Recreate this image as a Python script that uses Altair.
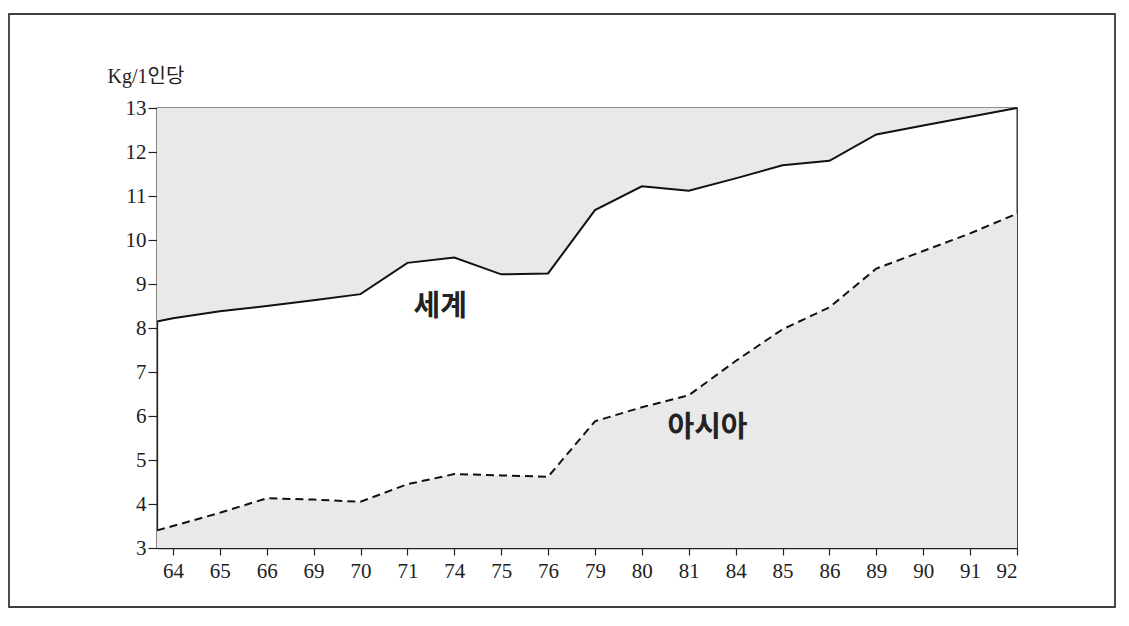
import altair as alt
import pandas as pd

# x labels (years) and the position index of each on the axis
years = ["64", "65", "66", "69", "70", "71", "74", "75", "76", "79",
         "80", "81", "84", "85", "86", "89", "90", "91", "92"]

# leading point sits on the y axis (index -0.34), then one value per year
idx = [-0.34] + list(range(len(years)))
world = [8.15, 8.22, 8.38, 8.50, 8.63, 8.77, 9.48, 9.60, 9.22, 9.24,
         10.68, 11.22, 11.12, 11.40, 11.70, 11.80, 12.40, 12.60, 12.80, 13.0]
asia = [3.40, 3.50, 3.80, 4.13, 4.10, 4.05, 4.45, 4.68, 4.65, 4.62,
        5.88, 6.20, 6.47, 7.25, 7.97, 8.47, 9.35, 9.75, 10.15, 10.60]

label_text = ["세계", "아시아"]
label_x = [5.7, 11.4]
label_y = [8.48, 5.73]

df = pd.DataFrame({"i": idx, "world": world, "asia": asia})
labels = pd.DataFrame({"t": label_text, "x": label_x, "y": label_y})

GREY = "#e9e9e9"
SERIF = "'Liberation Serif', 'DejaVu Serif', 'Noto Sans CJK KR', serif"

xscale = alt.Scale(domain=[-0.34, 18], nice=False, zero=False)
yscale = alt.Scale(domain=[3, 13], nice=False, zero=False)

years_js = "[" + ",".join("'%s'" % y for y in years) + "]"

x_enc = alt.X("i:Q", scale=xscale,
              axis=alt.Axis(values=list(range(len(years))),
                            labelExpr=years_js + "[datum.value]",
                            title=None, grid=False, tickSize=7,
                            labelPadding=5, labelFontSize=21,
                            labelFont=SERIF, labelColor="#222",
                            domainColor="#222", tickColor="#222",
                            domainWidth=1.3, tickWidth=1.2))
y_axis = alt.Axis(values=list(range(3, 14)), title="Kg/1인당",
                  titleAngle=0, titleX=-50, titleY=-22, titleAlign="left",
                  titleFont=SERIF, titleFontSize=20, titleFontWeight="normal",
                  titleColor="#222",
                  grid=False, tickSize=9, labelPadding=2, labelFontSize=21,
                  labelFont=SERIF, labelColor="#222",
                  domainColor="#222", tickColor="#222",
                  domainWidth=1.3, tickWidth=1.2)

base = alt.Chart(df)

upper = base.mark_area(color=GREY).encode(
    x=x_enc,
    y=alt.Y("world:Q", scale=yscale, axis=y_axis),
    y2=alt.datum(13),
)
lower = base.mark_area(color=GREY).encode(
    x="i:Q",
    y="asia:Q",
    y2=alt.datum(3),
)
wline = base.mark_line(color="#111", strokeWidth=2).encode(x="i:Q", y="world:Q")
aline = base.mark_line(color="#111", strokeWidth=2, strokeDash=[8, 5]).encode(
    x="i:Q", y="asia:Q")

txt = alt.Chart(labels).mark_text(
    font="Noto Sans CJK KR", fontWeight="bold", fontSize=29, color="#222"
).encode(x="x:Q", y="y:Q", text="t:N")

frame = alt.Chart(labels).mark_rect(
    fill=None, stroke="#333", strokeWidth=1.3
).encode(x=alt.value(-148), x2=alt.value(958),
         y=alt.value(-94), y2=alt.value(499))

chart = alt.layer(upper, lower, wline, aline, txt, frame).properties(
    width=860, height=440,
    padding={"left": 149, "top": 100, "right": 100, "bottom": 62},
    autosize=alt.AutoSizeParams(type="none"),
    background="white",
).configure_view(stroke="#222", strokeWidth=1.3)

chart.save("out.html", embed_options={"renderer": "svg", "actions": False})
